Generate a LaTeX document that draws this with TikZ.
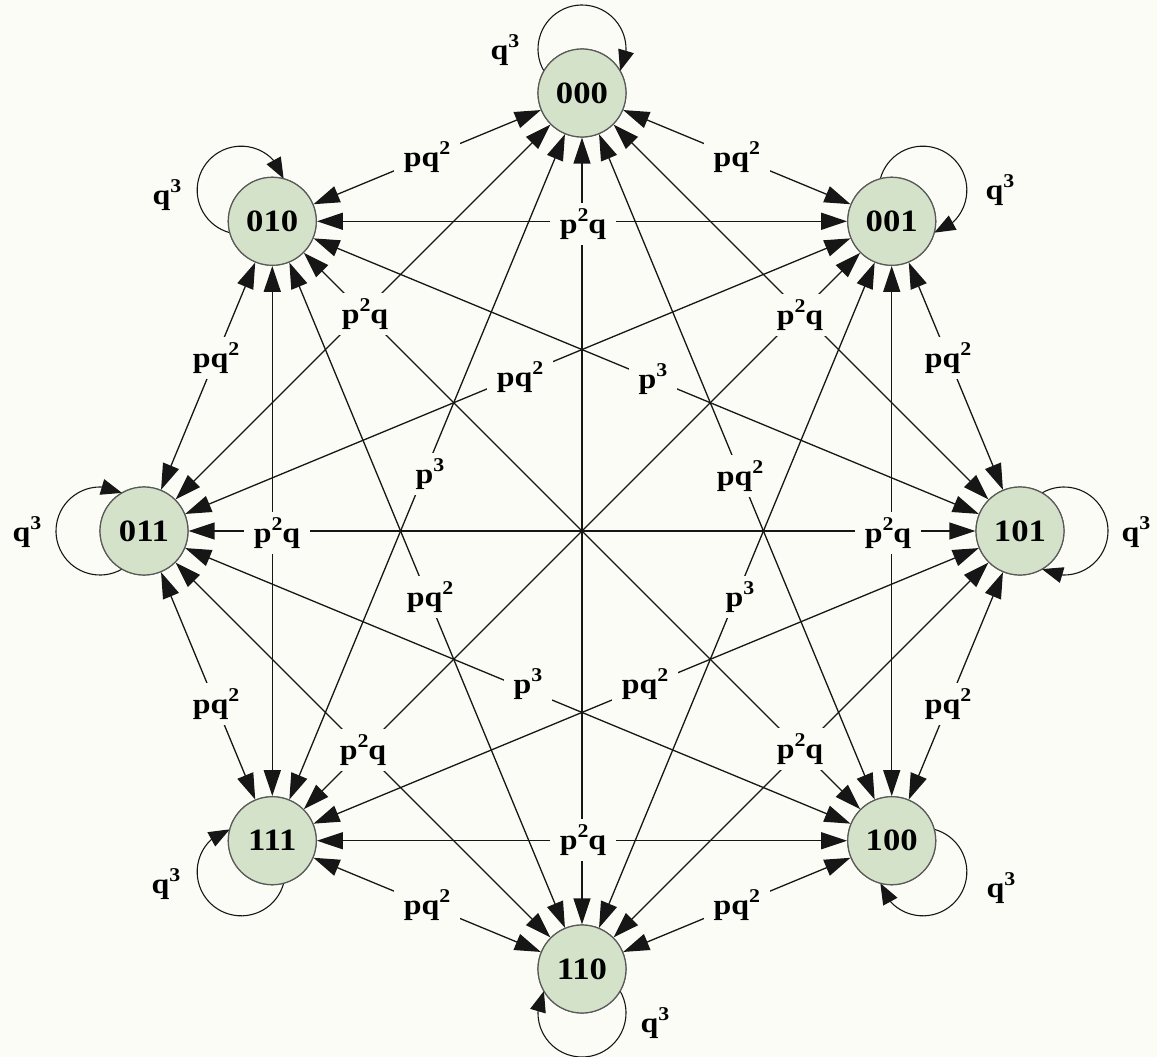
\documentclass[tikz,border=0pt]{standalone}
\usepackage{fontspec}
\setmainfont{Liberation Serif}[FakeStretch=1.12]
\usetikzlibrary{arrows.meta,bending,calc}
\definecolor{bg}{RGB}{252,252,246}
\definecolor{nodefill}{RGB}{212,226,201}
\definecolor{ink}{RGB}{22,22,22}
\newcommand{\mysup}[1]{\raisebox{0.42em}{\fontsize{19.5}{19.5}\selectfont #1}}
\begin{document}
\begin{tikzpicture}[x=1pt,y=1pt,
  state/.style={circle, draw=black!65, line width=1.2pt, fill=nodefill, minimum size=88pt, inner sep=0pt, font=\fontsize{31}{32}\selectfont\bfseries},
  link/.style={{Triangle[length=26pt,width=17pt]}-{Triangle[length=26pt,width=17pt]}, line width=1.3pt, draw=ink},
  selfloop/.style={-{Triangle[length=21pt,width=16pt]}, line width=1.1pt, draw=ink},
  lab/.style={fill=bg, inner xsep=10pt, inner ysep=6pt, font=\fontsize{28.5}{30}\selectfont\bfseries},
  looplab/.style={inner sep=2pt, font=\fontsize{28.5}{30}\selectfont\bfseries}]
\fill[bg] (0,0) rectangle (1157,-1057);
\useasboundingbox (0,0) rectangle (1157,-1057);
\coordinate (C) at (582,-531);
\foreach \nm/\a in {000/90, 001/45, 101/0, 100/-45, 110/-90, 111/-135, 011/180, 010/135}
  \node[state] (n\nm) at ($(C)+(\a:438)$) {\nm};
% all 28 connectors
\foreach \u/\v in {000/001,000/101,000/100,000/110,000/111,000/011,000/010,
                   001/101,001/100,001/110,001/111,001/011,001/010,
                   101/100,101/110,101/111,101/011,101/010,
                   100/110,100/111,100/011,100/010,
                   110/111,110/011,110/010,
                   111/011,111/010,
                   011/010}
  \draw[link] (n\u) -- (n\v);
% self loops
\foreach \nm/\a in {000/90, 001/45, 101/0, 100/-45, 110/-90, 111/-135, 011/180, 010/135}
  \draw[selfloop] ($(n\nm.center)+(\a:44)+(\a+120:44)$) arc[start angle=\a+120, end angle=\a-120, radius=44pt];
% redraw nodes over loops
\foreach \nm/\a in {000/90, 001/45, 101/0, 100/-45, 110/-90, 111/-135, 011/180, 010/135}
  \node[state] at (n\nm) {\nm};
% loop labels
\node[looplab] (q0) at (505,-50) {q\mysup{3}};
\node[looplab] (q1) at (1000,-190) {q\mysup{3}};
\node[looplab] (q2) at (1136,-532) {q\mysup{3}};
\node[looplab] (q3) at (1001,-888) {q\mysup{3}};
\node[looplab] (q4) at (655,-1023) {q\mysup{3}};
\node[looplab] (q5) at (166,-884) {q\mysup{3}};
\node[looplab] (q6) at (27,-532) {q\mysup{3}};
\node[looplab] (q7) at (167,-195) {q\mysup{3}};
% pq^2 labels
\node[lab] (a1) at ($(n010)!0.5!(n000)$) {pq\mysup{2}};
\node[lab] (a2) at ($(n000)!0.5!(n001)$) {pq\mysup{2}};
\node[lab] (a3) at (216,-358) {pq\mysup{2}};
\node[lab] (a4) at (948,-358) {pq\mysup{2}};
\node[lab] (a5) at (216,-704) {pq\mysup{2}};
\node[lab] (a6) at (948,-704) {pq\mysup{2}};
\node[lab] (a7) at ($(n111)!0.5!(n110)$) {pq\mysup{2}};
\node[lab] (a8) at ($(n110)!0.5!(n100)$) {pq\mysup{2}};
\node[lab] (a9) at (520,-377) {pq\mysup{2}};
\node[lab] (a10) at (740,-476) {pq\mysup{2}};
\node[lab] (a11) at (430,-597) {pq\mysup{2}};
\node[lab] (a12) at (645,-684) {pq\mysup{2}};
% p^2q labels
\node[lab] (b1) at (583,-224) {p\mysup{2}q};
\node[lab] (b2) at (583,-840) {p\mysup{2}q};
\node[lab] (b3) at (277,-533) {p\mysup{2}q};
\node[lab] (b4) at (888,-533) {p\mysup{2}q};
\node[lab] (b5) at (365,-314) {p\mysup{2}q};
\node[lab] (b6) at (800,-315) {p\mysup{2}q};
\node[lab] (b7) at (363,-750) {p\mysup{2}q};
\node[lab] (b8) at (800,-749) {p\mysup{2}q};
% p^3 labels
\node[lab] (c1) at (653,-379) {p\mysup{3}};
\node[lab] (c2) at (430,-474) {p\mysup{3}};
\node[lab] (c3) at (528,-684) {p\mysup{3}};
\node[lab] (c4) at (740,-597) {p\mysup{3}};
\end{tikzpicture}
\end{document}
